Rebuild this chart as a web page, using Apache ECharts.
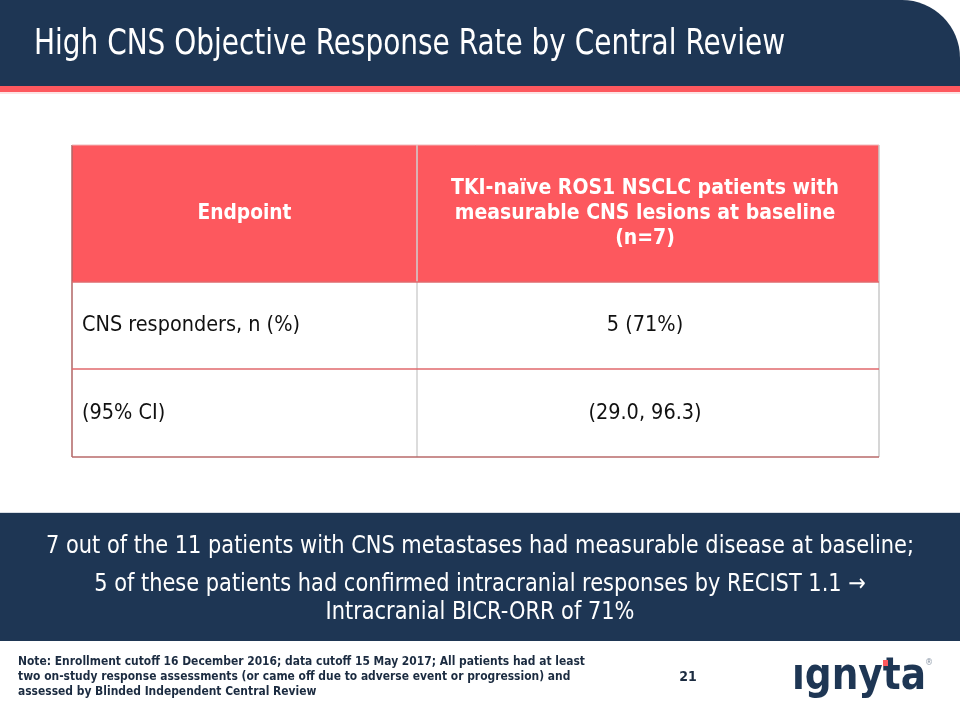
<!DOCTYPE html>
<html>
<head>
<meta charset="utf-8">
<script src="https://cdn.jsdelivr.net/npm/echarts@6/dist/echarts.min.js"></script>
<style>
html,body{margin:0;padding:0;background:#fff;}
#main{width:960px;height:720px;}
</style>
</head>
<body>
<div id="main"></div>
<script>
// ---- content ----
const slideTitle = 'High CNS Objective Response Rate by Central Review';
const columnHeaders = ['Endpoint', 'TKI-naïve ROS1 NSCLC patients with\nmeasurable CNS lesions at baseline\n(n=7)'];
const rowLabels = ['CNS responders, n (%)', '(95% CI)'];
const rowValues = ['5 (71%)', '(29.0, 96.3)'];
const summaryLines = [
  '7 out of the 11 patients with CNS metastases had measurable disease at baseline;',
  '5 of these patients had confirmed intracranial responses by RECIST 1.1 \u2192',
  'Intracranial BICR-ORR of 71%'
];
const noteLines = [
  'Note: Enrollment cutoff 16 December 2016; data cutoff 15 May 2017; All patients had at least',
  'two on-study response assessments (or came off due to adverse event or progression) and',
  'assessed by Blinded Independent Central Review'
];
const pageNumber = '21';
const logoText = '\u0131gnyta';

// ---- style ----
const NAVY = '#1e3654';
const RED = '#fd585e';
const FONT = '"DejaVu Sans Condensed", "DejaVu Sans", sans-serif';

const mctx = document.createElement('canvas').getContext('2d');
function fontStr(size, weight) { return (weight || 'normal') + ' ' + size + 'px ' + FONT; }
function fitScale(str, size, weight, target) {
  mctx.font = fontStr(size, weight);
  const w = mctx.measureText(str).width;
  return target / w;
}
function txt(str, x, y, o) {
  const size = o.size, weight = o.weight || 'normal';
  let sx = 1;
  if (o.width) sx = fitScale(o.fitLine || str.split('\n')[0], size, weight, o.width);
  return {
    type: 'text', x: x, y: y, scaleX: sx, scaleY: 1, silent: true,
    style: {
      text: str, x: 0, y: 0,
      fill: o.color || '#000',
      font: fontStr(size, weight),
      textAlign: o.align || 'left',
      textVerticalAlign: 'middle',
      lineHeight: o.lineHeight || size * 1.2
    }
  };
}

const els = [];
// header band with rounded top-right corner
els.push({ type: 'rect', shape: { x: 0, y: 0, width: 960, height: 87, r: [0, 58, 0, 0] }, style: { fill: NAVY } });
els.push({ type: 'rect', shape: { x: 0, y: 86, width: 960, height: 6 }, style: { fill: RED } });
els.push({ type: 'rect', shape: { x: 0, y: 92, width: 960, height: 2 }, style: { fill: '#fde3e4' } });
els.push(txt(slideTitle, 34, 45, { size: 36, color: '#fff', width: 751 }));

// table
const tx0 = 72, tx1 = 417, tx2 = 879;
const ty = [145, 282, 369, 457];
els.push({ type: 'rect', shape: { x: tx0, y: ty[0], width: tx2 - tx0, height: ty[1] - ty[0] }, style: { fill: RED } });
// grid lines
els.push({ type: 'line', shape: { x1: tx1, y1: ty[0], x2: tx1, y2: ty[3] }, style: { stroke: '#d0d0d0', lineWidth: 1.5 } });
els.push({ type: 'line', shape: { x1: tx2, y1: ty[0], x2: tx2, y2: ty[3] }, style: { stroke: '#c8c8c8', lineWidth: 1.5 } });
els.push({ type: 'line', shape: { x1: tx0, y1: ty[0], x2: tx0, y2: ty[3] }, style: { stroke: '#b06464', lineWidth: 1.5 } });
els.push({ type: 'line', shape: { x1: tx0, y1: ty[0], x2: tx2, y2: ty[0] }, style: { stroke: '#f0b8ba', lineWidth: 1 } });
for (let i = 1; i < ty.length; i++) {
  els.push({ type: 'line', shape: { x1: tx0, y1: ty[i], x2: tx2, y2: ty[i] }, style: { stroke: i === 3 ? '#b86a6a' : '#e0686c', lineWidth: 1.5 } });
}
const c1 = (tx0 + tx1) / 2, c2 = (tx1 + tx2) / 2;
els.push(txt(columnHeaders[0], c1, (ty[0] + ty[1]) / 2, { size: 22, weight: 'bold', color: '#fff', align: 'center', width: 94 }));
els.push(txt(columnHeaders[1], c2 - 3, (ty[0] + ty[1]) / 2, { size: 22, weight: 'bold', color: '#fff', align: 'center', width: 388, lineHeight: 25 }));
for (let r = 0; r < rowLabels.length; r++) {
  const cy = (ty[r + 1] + ty[r + 2]) / 2;
  els.push(txt(rowLabels[r], 82, cy, { size: 22, color: '#111', fitLine: rowLabels[0], width: 218 }));
  els.push(txt(rowValues[r], c2 - 3, cy, { size: 22, color: '#111', align: 'center', fitLine: rowLabels[0], width: 218 }));
}

// summary box
els.push({ type: 'rect', shape: { x: 0, y: 513, width: 960, height: 128 }, style: { fill: NAVY } });
els.push({ type: 'rect', shape: { x: 0, y: 512, width: 960, height: 1 }, style: { fill: '#d8dde4' } });
const sScale = fitScale(summaryLines[0], 24, 'normal', 868);
const sy = [547, 585, 613];
summaryLines.forEach((s, i) => {
  const e = txt(s, 480, sy[i], { size: 24, color: '#fff', align: 'center' });
  e.scaleX = sScale;
  e.originX = 0;
  els.push(e);
});

// notes
const nScale = fitScale(noteLines[0], 13, 'bold', 567);
const ny = [662, 677, 692];
noteLines.forEach((s, i) => {
  const e = txt(s, 18, ny[i], { size: 13, weight: 'bold', color: '#1b2b40' });
  e.scaleX = nScale;
  els.push(e);
});
els.push(txt(pageNumber, 688, 677, { size: 14, weight: 'bold', color: '#1b2b40', align: 'center' }));

// logo
els.push(txt(logoText, 792, 678, { size: 44, weight: 'bold', color: NAVY, width: 134 }));
els.push({ type: 'rect', shape: { x: 883, y: 660, width: 5, height: 6 }, style: { fill: RED } });
els.push(txt('\u00ae', 929, 663, { size: 9, color: '#8a96a6', align: 'center' }));

const chart = echarts.init(document.getElementById('main'), null, { renderer: 'canvas' });
chart.setOption({
  backgroundColor: '#fff',
  animation: false,
  graphic: { elements: els }
});
</script>
</body>
</html>
